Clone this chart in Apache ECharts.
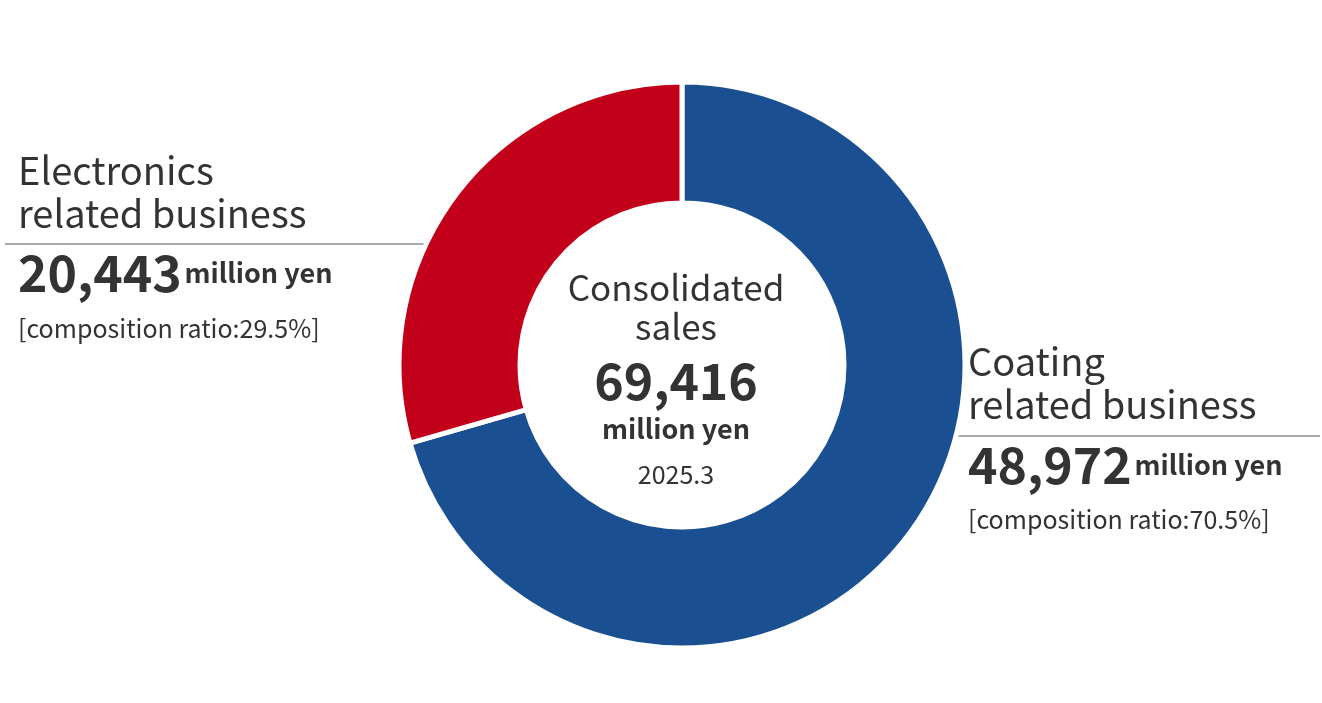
<!DOCTYPE html>
<html>
<head>
<meta charset="utf-8">
<script src="https://cdn.jsdelivr.net/npm/echarts@6/dist/echarts.min.js"></script>
<style>
html,body{margin:0;padding:0;background:#fff;}
#main{width:1322px;height:703px;}
</style>
</head>
<body>
<div id="main"></div>
<script>
var segmentNames = ['Coating related business', 'Electronics related business'];
var segmentValues = [48972, 20443];
var segmentColors = ['#1a5091', '#c3001a'];

var FONT = '"Noto Sans CJK JP", "Noto Sans", sans-serif';
var myChart = echarts.init(document.getElementById('main'));

function txt(x, y, s, size, weight, align) {
    return {
        type: 'text', left: x, top: y,
        style: {
            text: s, fontSize: size, fontWeight: weight || 'normal',
            fill: '#333', fontFamily: FONT, textAlign: align || 'left'
        }
    };
}
function rich(x, y, num, unit) {
    return {
        type: 'text', left: x, top: y,
        style: {
            text: '{a|' + num + '} {b|' + unit + '}',
            fontFamily: FONT,
            rich: {
                a: {fontSize: 50, fontWeight: 'bold', fill: '#333', fontFamily: FONT},
                b: {fontSize: 27, fontWeight: 'bold', fill: '#333', fontFamily: FONT}
            }
        }
    };
}

var option = {
    animation: false,
    series: [{
        type: 'pie',
        center: [682, 365],
        radius: [162, 283],
        startAngle: 90,
        clockwise: true,
        label: {show: false},
        labelLine: {show: false},
        itemStyle: {borderColor: '#fff', borderWidth: 5},
        data: segmentNames.map(function (n, i) {
            return {name: n, value: segmentValues[i], itemStyle: {color: segmentColors[i]}};
        })
    }],
    graphic: [
        txt(18, 152, 'Electronics', 38),
        txt(18, 195, 'related business', 38),
        {type: 'line', shape: {x1: 5, y1: 244, x2: 440, y2: 244}, style: {stroke: '#555', lineWidth: 1}},
        rich(18, 248, '20,443', 'million yen'),
        txt(18, 316, '[composition ratio:29.5%]', 25),
        txt(968, 343, 'Coating', 38),
        txt(968, 386, 'related business', 38),
        {type: 'line', shape: {x1: 880, y1: 436, x2: 1320, y2: 436}, style: {stroke: '#555', lineWidth: 1}},
        rich(968, 440, '48,972', 'million yen'),
        txt(968, 507, '[composition ratio:70.5%]', 25),
        {type: 'text', left: 'center', top: 0, style: {}},
        {type: 'text', x: 676, y: 270, style: {text: 'Consolidated', fontSize: 35, fill: '#333', fontFamily: FONT, textAlign: 'center'}},
        {type: 'text', x: 676, y: 309, style: {text: 'sales', fontSize: 35, fill: '#333', fontFamily: FONT, textAlign: 'center'}},
        {type: 'text', x: 676, y: 356, style: {text: '69,416', fontSize: 50, fontWeight: 'bold', fill: '#333', fontFamily: FONT, textAlign: 'center'}},
        {type: 'text', x: 676, y: 415, style: {text: 'million yen', fontSize: 27, fontWeight: 'bold', fill: '#333', fontFamily: FONT, textAlign: 'center'}},
        {type: 'text', x: 676, y: 462, style: {text: '2025.3', fontSize: 25, fill: '#333', fontFamily: FONT, textAlign: 'center'}}
    ]
};
myChart.setOption(option);
</script>
</body>
</html>
